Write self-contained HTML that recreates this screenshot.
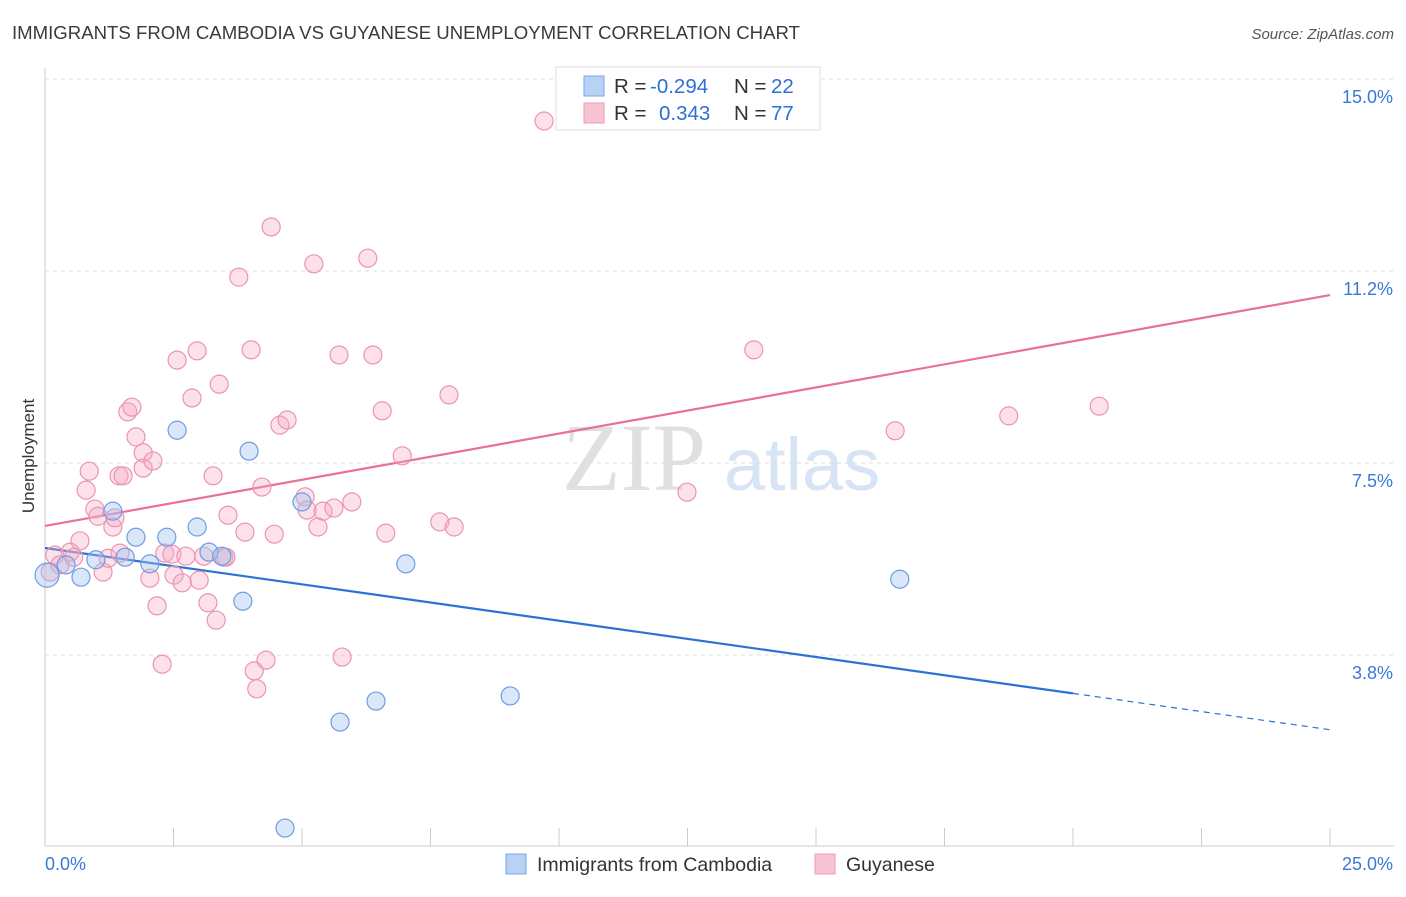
<!DOCTYPE html>
<html><head><meta charset="utf-8"><style>
body{margin:0;background:#fff;font-family:"Liberation Sans",sans-serif;}
</style></head><body>
<svg id="chart" width="1406" height="892" xmlns="http://www.w3.org/2000/svg" style="font-family:'Liberation Sans',sans-serif">
<text x="12" y="39" font-size="18.6" fill="#3a3a3a">IMMIGRANTS FROM CAMBODIA VS GUYANESE UNEMPLOYMENT CORRELATION CHART</text>
<text x="1394" y="39" font-size="15" fill="#555" font-style="italic" text-anchor="end">Source: ZipAtlas.com</text>
<text x="34" y="456" font-size="17" fill="#333" text-anchor="middle" transform="rotate(-90 34 456)">Unemployment</text>
<g><text x="634" y="490" font-size="96" fill="#e0e0e0" text-anchor="middle" font-family="Liberation Serif,serif">ZIP</text><text x="802" y="490" font-size="74" fill="#d6e4f4" text-anchor="middle">atlas</text></g>
<g id="grid"></g><g id="axes"></g><g id="lines"></g><g id="pts"></g>
<g>
<rect x="556" y="67" width="264" height="63" fill="#fff" stroke="#ddd"/>
<rect x="584" y="76" width="20" height="20" fill="#b8d2f5" stroke="#7aa6e6"/>
<rect x="584" y="103" width="20" height="20" fill="#f8c4d4" stroke="#ec9ab5"/>
<text x="614" y="93" font-size="20.5" fill="#333">R = <tspan x="650" fill="#2e6fd6">-0.294</tspan><tspan x="734">N = </tspan><tspan x="771" fill="#2e6fd6">22</tspan></text>
<text x="614" y="120" font-size="20.5" fill="#333">R = <tspan x="659" fill="#2e6fd6">0.343</tspan><tspan x="734">N = </tspan><tspan x="771" fill="#2e6fd6">77</tspan></text>
</g>
<g>
<rect x="506" y="854" width="20" height="20" fill="#b8d2f5" stroke="#7aa6e6"/>
<text x="537" y="871" font-size="19.5" fill="#333">Immigrants from Cambodia</text>
<rect x="815" y="854" width="20" height="20" fill="#f8c4d4" stroke="#ec9ab5"/>
<text x="846" y="871" font-size="19.5" fill="#333">Guyanese</text>
</g>
</svg>
<script>
const xTicks=[0,2.5,5,7.5,10,12.5,15,17.5,20,22.5,25];
const yTicks=[3.75,7.5,11.25,15];
const yTickLabels=["3.8%","7.5%","11.2%","15.0%"];
const blueX=[0.04,0.41,0.70,0.99,1.32,1.56,1.77,2.04,2.37,2.57,2.96,3.19,3.44,3.85,3.97,5.00,5.74,6.44,7.02,9.05,4.67,16.63];
const blueY=[5.31,5.51,5.27,5.61,6.56,5.66,6.05,5.53,6.05,8.14,6.25,5.76,5.68,4.80,7.73,6.74,2.44,2.85,5.53,2.95,0.37,5.23];
const pinkX=[0.10,0.19,0.29,0.49,0.56,0.68,0.80,0.86,0.97,1.03,1.13,1.23,1.32,1.36,1.44,1.52,1.61,1.69,1.77,1.91,1.91,2.04,2.10,2.18,2.28,2.33,2.47,2.51,2.57,2.67,2.74,2.86,2.96,3.00,3.09,3.17,3.27,3.33,3.39,3.48,3.56,3.77,3.89,4.01,4.07,4.12,4.22,4.30,4.40,4.46,4.57,4.71,5.06,5.10,5.23,5.31,5.41,5.62,5.72,5.78,5.97,6.28,6.38,6.56,6.63,6.95,7.68,7.86,7.96,9.71,12.49,13.79,16.54,18.75,20.51,3.52,1.46];
const pinkY=[5.37,5.70,5.51,5.76,5.66,5.98,6.97,7.34,6.60,6.46,5.37,5.64,6.25,6.43,7.25,7.25,8.50,8.59,8.01,7.70,7.40,5.25,7.54,4.71,3.57,5.74,5.72,5.31,9.51,5.16,5.68,8.77,9.69,5.21,5.68,4.77,7.25,4.43,9.04,5.66,6.48,11.13,6.15,9.71,3.44,3.09,7.03,3.65,12.11,6.11,8.24,8.34,6.84,6.58,11.39,6.25,6.56,6.62,9.61,3.71,6.74,11.50,9.61,8.52,6.13,7.64,6.35,8.83,6.25,14.18,6.93,9.71,8.13,8.42,8.61,5.66,5.74];
const pinkTrend=[6.27,10.78];
const blueTrend=[5.84,2.29];
const blueSolidEnd=20;
const NS="http://www.w3.org/2000/svg";
const X=v=>45+v/25*1285, Y=v=>847-v*51.2;
function mk(t,a,p){const e=document.createElementNS(NS,t);for(const k in a)e.setAttribute(k,a[k]);document.getElementById(p).appendChild(e);return e;}
yTicks.forEach((t,i)=>{
 const l=mk('line',{x1:45,x2:1394,y1:Y(t),y2:Y(t),stroke:'#ddd','stroke-dasharray':'4 4'},'grid');
 
 
 const tx=mk('text',{x:1393,y:Y(t)+24,'font-size':18,fill:'#3a78d8','text-anchor':'end'},'axes');tx.textContent=yTickLabels[i];
 
 
});
mk('line',{x1:45,x2:45,y1:68,y2:846,stroke:'#ccc'},'axes');
mk('line',{x1:45,x2:1394,y1:846,y2:846,stroke:'#ccc'},'axes');
xTicks.forEach(t=>{const l=mk('line',{x1:X(t),x2:X(t),y1:828,y2:846,stroke:'#ccc'},'axes');
 
 });
let a=mk('text',{x:45,y:870,'font-size':18,fill:'#3a78d8'},'axes');a.textContent='0.0%';


a=mk('text',{x:1393,y:870,'font-size':18,fill:'#3a78d8','text-anchor':'end'},'axes');a.textContent='25.0%';


function pts(xs,ys,f,s,n){xs.forEach((x,i)=>{const c=mk('circle',{cx:X(x),cy:Y(ys[i]),r:i==0&&n=='cambodia-point'?12:9,fill:f,stroke:s,'stroke-width':1.2},'pts');
 
 });}
pts(pinkX,pinkY,'rgba(245,170,196,0.35)','#eb94b2','guyanese-point');
pts(blueX,blueY,'rgba(160,195,240,0.4)','#6d9de2','cambodia-point');
let t=mk('line',{x1:X(0),y1:Y(pinkTrend[0]),x2:X(25),y2:Y(pinkTrend[1]),stroke:'#e8709a','stroke-width':2.2},'lines');


const by=v=>blueTrend[0]+(blueTrend[1]-blueTrend[0])*v/25;
t=mk('line',{x1:X(0),y1:Y(by(0)),x2:X(blueSolidEnd),y2:Y(by(blueSolidEnd)),stroke:'#2c70d8','stroke-width':2.2},'lines');


t=mk('line',{x1:X(blueSolidEnd),y1:Y(by(blueSolidEnd)),x2:X(25),y2:Y(by(25)),stroke:'#2c70d8','stroke-width':1.2,'stroke-dasharray':'6 5'},'lines');


</script>
</body></html>
